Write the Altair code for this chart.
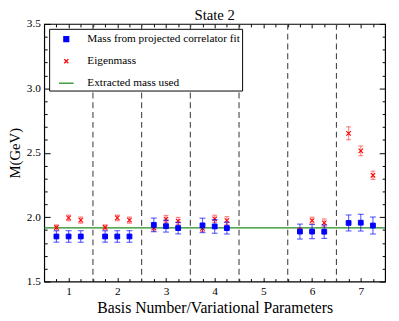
import altair as alt
import pandas as pd

# ---------------- data ----------------
series_names = ["Mass from projected correlator fit", "Eigenmass", "Extracted mass used"]

x_pos = [0.75, 1.0, 1.25, 1.75, 2.0, 2.25, 2.75, 3.0, 3.25,
         3.75, 4.0, 4.25, 5.75, 6.0, 6.25, 6.75, 7.0, 7.25]

fit_mass = [1.850, 1.850, 1.850, 1.850, 1.850, 1.850, 1.940, 1.930, 1.915,
            1.936, 1.928, 1.915, 1.888, 1.888, 1.887, 1.955, 1.957, 1.935]
fit_err = [0.044, 0.045, 0.045, 0.044, 0.045, 0.045, 0.053, 0.046, 0.045,
           0.056, 0.053, 0.046, 0.058, 0.055, 0.052, 0.062, 0.065, 0.066]

eigen_mass = [1.920, 1.994, 1.977, 1.920, 1.994, 1.977, 1.917, 1.985, 1.970,
              1.913, 1.987, 1.974, 1.895, 1.974, 1.956, 2.651, 2.515, 2.325]
eigen_err = [0.020, 0.022, 0.024, 0.020, 0.022, 0.024, 0.025, 0.028, 0.028,
             0.025, 0.028, 0.030, 0.020, 0.026, 0.030, 0.050, 0.038, 0.032]

extracted_mass = [1.917]
separators = [1.5, 2.5, 3.5, 4.5, 5.5, 6.5]

x_ticks = [0.75, 1.0, 1.25, 1.5, 1.75, 2.0, 2.25, 2.5, 2.75, 3.0, 3.25, 3.5,
           3.75, 4.0, 4.25, 4.5, 4.75, 5.0, 5.25, 5.5, 5.75, 6.0, 6.25, 6.5,
           6.75, 7.0, 7.25]
y_ticks = [1.5, 1.6, 1.7, 1.8, 1.9, 2.0, 2.1, 2.2, 2.3, 2.4, 2.5, 2.6, 2.7,
           2.8, 2.9, 3.0, 3.1, 3.2, 3.3, 3.4, 3.5]

# ---------------- styling ----------------
FONT = "Liberation Serif"
BLUE = "#0000ff"
RED = "#ff0000"
GREEN = "#228b22"

fit_df = pd.DataFrame({"x": x_pos, "m": fit_mass,
                       "lo": [m - e for m, e in zip(fit_mass, fit_err)],
                       "hi": [m + e for m, e in zip(fit_mass, fit_err)],
                       "series": series_names[0]})
eig_df = pd.DataFrame({"x": x_pos, "m": eigen_mass,
                       "lo": [m - e for m, e in zip(eigen_mass, eigen_err)],
                       "hi": [m + e for m, e in zip(eigen_mass, eigen_err)],
                       "series": series_names[1]})
sep_df = pd.DataFrame({"sep": separators})
ext_df = pd.DataFrame({"m": extracted_mass})

xscale = alt.Scale(domain=[0.5, 7.5], nice=False, zero=False)
yscale = alt.Scale(domain=[1.5, 3.5], nice=False, zero=False)

SQ = "M-0.33,-0.33H0.33V0.33H-0.33Z"
XP = "M-0.28,-0.28L0.28,0.28M-0.28,0.28L0.28,-0.28"
LN = "M-1,0H1"

legend = alt.Legend(title=None, orient="top-left", offset=5, padding=2,
                    strokeColor="black", fillColor="white", cornerRadius=0,
                    symbolSize=225, symbolOffset=7, labelOffset=13,
                    rowPadding=8.5, labelFont=FONT, labelFontSize=11.5,
                    labelColor="black", symbolStrokeWidth=1.3)

fill_enc = alt.Fill("series:N", scale=alt.Scale(domain=series_names, range=[BLUE, RED, GREEN]), legend=legend)
stroke_enc = alt.Stroke("series:N", scale=alt.Scale(domain=series_names, range=[BLUE, RED, GREEN]), legend=legend)
shape_enc = alt.Shape("series:N", scale=alt.Scale(domain=series_names, range=[SQ, XP, LN]), legend=legend)

x_major = "abs(datum.value - round(datum.value)) < 1e-6"
y_major = "abs(datum.value * 2 - round(datum.value * 2)) < 1e-6"

common_axis = dict(domain=False, grid=False, tickColor="black", tickWidth=1,
                   labelFont=FONT, labelFontSize=11.5, labelColor="black",
                   titleFont=FONT, titleFontWeight="normal",
                   titleColor="black")

x_bottom = alt.Axis(orient="bottom", values=x_ticks, title="Basis Number/Variational Parameters",
                    labelExpr=f"{x_major} ? format(datum.value, 'd') : ''",
                    tickSize={"expr": f"{x_major} ? -4 : -3"}, labelPadding=8,
                    titlePadding=2, titleFontSize=16, labelFlush=False, labelOverlap=False, **common_axis)
y_left = alt.Axis(orient="left", values=y_ticks, title="M(GeV)",
                  labelExpr=f"{y_major} ? format(datum.value, '.1f') : ''",
                  tickSize={"expr": f"{y_major} ? -6 : -3"}, labelPadding=10,
                  titlePadding=4, titleFontSize=15, labelFlush=False, labelOverlap=False, **common_axis)
x_top = alt.Axis(orient="top", values=x_ticks, title=None, labels=False,
                 tickSize={"expr": f"{x_major} ? -4 : -3"}, **common_axis)
y_right = alt.Axis(orient="right", values=y_ticks, title=None, labels=False,
                   tickSize={"expr": f"{y_major} ? -6 : -3"}, **common_axis)

# ---------------- layers ----------------
sep_layer = alt.Chart(sep_df).mark_rule(color="#444444", strokeWidth=1.1, strokeDash=[6, 4]).encode(
    x=alt.X("sep:Q", scale=xscale, axis=None))

ext_layer = alt.Chart(ext_df).mark_rule(color=GREEN, strokeWidth=1.2).encode(
    y=alt.Y("m:Q", scale=yscale, axis=None))

def errbars(df, color, opacity, cap):
    bar = alt.Chart(df).mark_rule(color=color, opacity=opacity, strokeWidth=1.2).encode(
        x=alt.X("x:Q", scale=xscale, axis=None),
        y=alt.Y("lo:Q", scale=yscale, axis=None), y2="hi:Q")
    lo = alt.Chart(df).mark_tick(color=color, opacity=opacity, size=cap, thickness=1.2, orient="horizontal").encode(
        x=alt.X("x:Q", scale=xscale, axis=None),
        y=alt.Y("lo:Q", scale=yscale, axis=None))
    hi = alt.Chart(df).mark_tick(color=color, opacity=opacity, size=cap, thickness=1.2, orient="horizontal").encode(
        x=alt.X("x:Q", scale=xscale, axis=None),
        y=alt.Y("hi:Q", scale=yscale, axis=None))
    return bar + lo + hi

eig_err_layer = errbars(eig_df, RED, 0.45, 5)
fit_err_layer = errbars(fit_df, BLUE, 0.6, 6)

eig_pts = alt.Chart(eig_df).mark_point(size=260, strokeWidth=1.1, opacity=1).encode(
    x=alt.X("x:Q", scale=xscale, axis=x_top),
    y=alt.Y("m:Q", scale=yscale, axis=y_right),
    fill=fill_enc, stroke=stroke_enc, shape=shape_enc)

fit_pts = alt.Chart(fit_df).mark_point(size=220, strokeWidth=1, opacity=1).encode(
    x=alt.X("x:Q", scale=xscale, axis=x_bottom),
    y=alt.Y("m:Q", scale=yscale, axis=y_left),
    fill=fill_enc, stroke=stroke_enc, shape=shape_enc)

chart = alt.layer(
    sep_layer, ext_layer, eig_err_layer, eig_pts, fit_err_layer, fit_pts
).resolve_axis(x="independent", y="independent").properties(
    width=348, height=263,
    title=alt.TitleParams("State 2", font=FONT, fontSize=15, fontWeight="normal",
                          color="black", anchor="middle", offset=-5),
    autosize=alt.AutoSizeParams(type="none"),
    padding={"left": 37, "top": 13, "right": 6, "bottom": 37},
).configure(font=FONT).configure_axis(labelFont=FONT, titleFont=FONT).configure_legend(
    labelFont=FONT
).configure_view(stroke="black", strokeWidth=1.2)

chart.save("out.html", embed_options={"renderer": "svg", "actions": False})
